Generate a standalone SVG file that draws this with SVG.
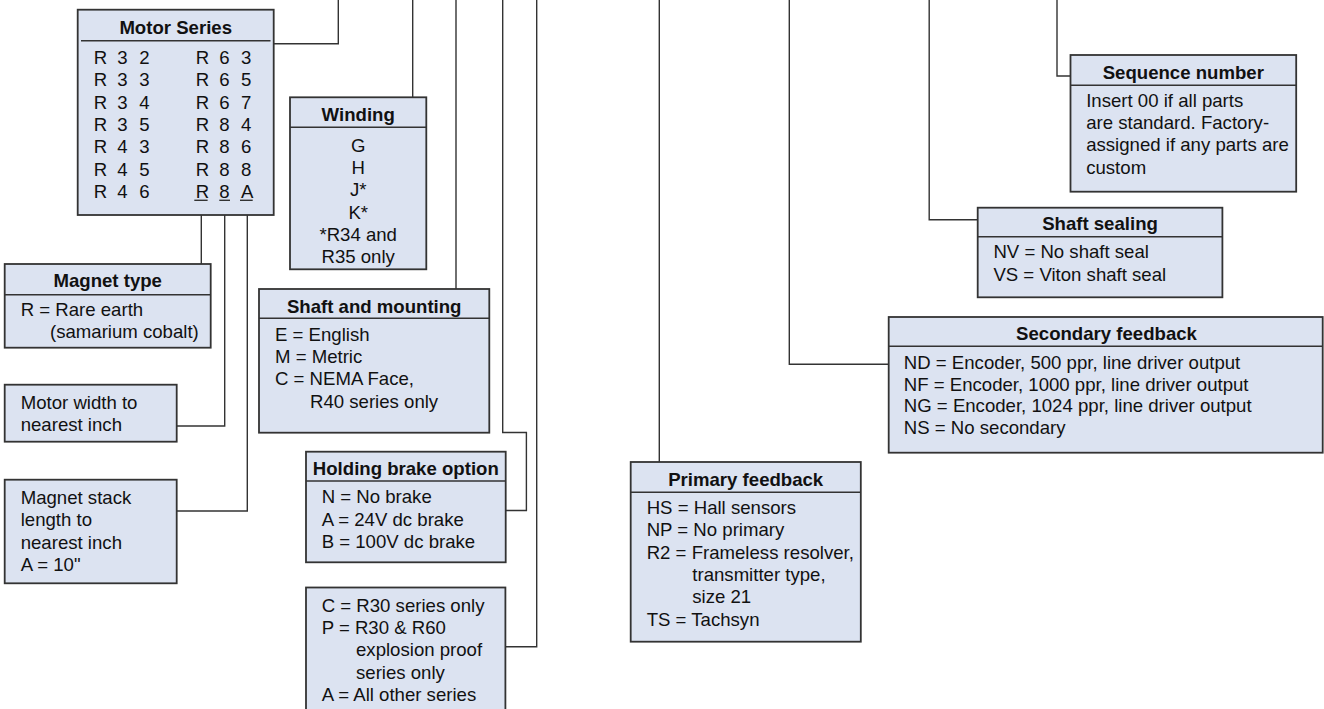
<svg xmlns="http://www.w3.org/2000/svg" width="1324" height="709" viewBox="0 0 1324 709">
<style>
.box{fill:#dce3f1;stroke:#333;stroke-width:1.8}
.sep{stroke:#333;stroke-width:1.6;fill:none}
.con{fill:none;stroke:#333;stroke-width:1.4}
text{font-family:"Liberation Sans",Arial,sans-serif;font-size:18.6px;fill:#111}
.t{font-weight:bold;text-anchor:middle}
.c{text-anchor:middle}
</style>
<rect width="1324" height="709" fill="#fff"/>
<g id="connectors">
<polyline class="con" points="273.7,43.7 338.3,43.7 338.3,0"/>
<polyline class="con" points="201.3,200.3 201.3,264"/>
<polyline class="con" points="224.7,200.3 224.7,426 176.7,426"/>
<polyline class="con" points="247.3,200.3 247.3,511 176.7,511"/>
<polyline class="con" points="412.7,97.3 412.7,0"/>
<polyline class="con" points="456,289 456,0"/>
<polyline class="con" points="505.7,510.5 526.4,510.5 526.4,432.5 502.7,432.5 502.7,0"/>
<polyline class="con" points="505.4,646.7 536.7,646.7 536.7,0"/>
<polyline class="con" points="659.3,462 659.3,0"/>
<polyline class="con" points="888.7,364.3 789.3,364.3 789.3,0"/>
<polyline class="con" points="977.7,219.7 929.2,219.7 929.2,0"/>
<polyline class="con" points="1070.5,76 1057,76 1057,0"/>
</g>
<g id="motor-series">
<rect class="box" x="77.7" y="9.7" width="196" height="205.3"/>
<line class="sep" x1="81" y1="40.7" x2="270.5" y2="40.7"/>
<text class="t" x="175.7" y="34.3">Motor Series</text>
<text x="93.7 117.3 139.3" y="64">R32</text>
<text x="93.7 117.3 139.3" y="86.3">R33</text>
<text x="93.7 117.3 139.3" y="108.7">R34</text>
<text x="93.7 117.3 139.3" y="131">R35</text>
<text x="93.7 117.3 139.3" y="153.3">R43</text>
<text x="93.7 117.3 139.3" y="175.7">R45</text>
<text x="93.7 117.3 139.3" y="198">R46</text>
<text x="195.7 219.3 241" y="64">R63</text>
<text x="195.7 219.3 241" y="86.3">R65</text>
<text x="195.7 219.3 241" y="108.7">R67</text>
<text x="195.7 219.3 241" y="131">R84</text>
<text x="195.7 219.3 241" y="153.3">R86</text>
<text x="195.7 219.3 241" y="175.7">R88</text>
<text x="195.7 219.3 241" y="198">R8A</text>
<line class="con" x1="194.3" y1="200.3" x2="207.6" y2="200.3"/>
<line class="con" x1="219.3" y1="200.3" x2="230" y2="200.3"/>
<line class="con" x1="240" y1="200.3" x2="252.7" y2="200.3"/>
</g>
<g id="winding">
<rect class="box" x="290" y="97.3" width="136.3" height="172"/>
<line class="sep" x1="290" y1="127.3" x2="426.3" y2="127.3"/>
<text class="t" x="358.2" y="121">Winding</text>
<text class="c" x="358.2" y="151.7">G</text>
<text class="c" x="358.2" y="174">H</text>
<text class="c" x="358.2" y="196.3">J*</text>
<text class="c" x="358.2" y="218.6">K*</text>
<text class="c" x="358.2" y="240.9">*R34 and</text>
<text class="c" x="358.2" y="263.2">R35 only</text>
</g>
<g id="magnet-type">
<rect class="box" x="4.7" y="264" width="206" height="83.7"/>
<line class="sep" x1="4.7" y1="294.7" x2="210.7" y2="294.7"/>
<text class="t" x="107.7" y="286.7">Magnet type</text>
<text x="20.7" y="315.7">R = Rare earth</text>
<text x="50" y="337.7">(samarium cobalt)</text>
</g>
<g id="motor-width">
<rect class="box" x="4.7" y="384.7" width="172" height="57"/>
<text x="20.7" y="409">Motor width to</text>
<text x="20.7" y="430.7">nearest inch</text>
</g>
<g id="magnet-stack">
<rect class="box" x="4.7" y="479.7" width="172" height="103.6"/>
<text x="20.7" y="504">Magnet stack</text>
<text x="20.7" y="526.3">length to</text>
<text x="20.7" y="548.7">nearest inch</text>
<text x="20.7" y="571">A = 10"</text>
</g>
<g id="shaft-mounting">
<rect class="box" x="259" y="289" width="230.3" height="143.7"/>
<line class="sep" x1="259" y1="318.3" x2="489.3" y2="318.3"/>
<text class="t" x="374.2" y="313.3">Shaft and mounting</text>
<text x="275" y="340.7">E = English</text>
<text x="275" y="363">M = Metric</text>
<text x="275" y="385.3">C = NEMA Face,</text>
<text x="310" y="407.6">R40 series only</text>
</g>
<g id="holding-brake">
<rect class="box" x="306" y="451.7" width="199.7" height="110.6"/>
<line class="sep" x1="306" y1="481" x2="505.7" y2="481"/>
<text class="t" x="405.8" y="475">Holding brake option</text>
<text x="321.7" y="503.3">N = No brake</text>
<text x="321.7" y="525.6">A = 24V dc brake</text>
<text x="321.7" y="548">B = 100V dc brake</text>
</g>
<g id="series-option">
<rect class="box" x="306" y="587.5" width="199.4" height="130"/>
<text x="321.7" y="611.7">C = R30 series only</text>
<text x="321.7" y="634">P = R30 &amp; R60</text>
<text x="356" y="656.3">explosion proof</text>
<text x="356" y="678.6">series only</text>
<text x="321.7" y="701">A = All other series</text>
</g>
<g id="primary-feedback">
<rect class="box" x="630.7" y="462" width="230.1" height="179.7"/>
<line class="sep" x1="630.7" y1="492.3" x2="860.8" y2="492.3"/>
<text class="t" x="745.7" y="485.7">Primary feedback</text>
<text x="646.7" y="514">HS = Hall sensors</text>
<text x="646.7" y="536.3">NP = No primary</text>
<text x="646.7" y="558.6">R2 = Frameless resolver,</text>
<text x="692.3" y="580.9">transmitter type,</text>
<text x="692.3" y="603.2">size 21</text>
<text x="646.7" y="625.5">TS = Tachsyn</text>
</g>
<g id="secondary-feedback">
<rect class="box" x="888.7" y="317" width="434" height="135.7"/>
<line class="sep" x1="888.7" y1="346.3" x2="1322.7" y2="346.3"/>
<text class="t" x="1106.5" y="340">Secondary feedback</text>
<text x="903.8" y="368.7">ND = Encoder, 500 ppr, line driver output</text>
<text x="903.8" y="390.5">NF = Encoder, 1000 ppr, line driver output</text>
<text x="903.8" y="412.2">NG = Encoder, 1024 ppr, line driver output</text>
<text x="903.8" y="434">NS = No secondary</text>
</g>
<g id="shaft-sealing">
<rect class="box" x="977.7" y="207.7" width="244.7" height="89.6"/>
<line class="sep" x1="977.7" y1="236.7" x2="1222.4" y2="236.7"/>
<text class="t" x="1100" y="230.2">Shaft sealing</text>
<text x="993.4" y="258.3">NV = No shaft seal</text>
<text x="993.4" y="281">VS = Viton shaft seal</text>
</g>
<g id="sequence-number">
<rect class="box" x="1070.5" y="55" width="225.7" height="136.7"/>
<line class="sep" x1="1070.5" y1="85.3" x2="1296.2" y2="85.3"/>
<text class="t" x="1183.3" y="79">Sequence number</text>
<text x="1086.2" y="106.7">Insert 00 if all parts</text>
<text x="1086.2" y="129">are standard. Factory-</text>
<text x="1086.2" y="151.3">assigned if any parts are</text>
<text x="1086.2" y="173.6">custom</text>
</g>
</svg>
